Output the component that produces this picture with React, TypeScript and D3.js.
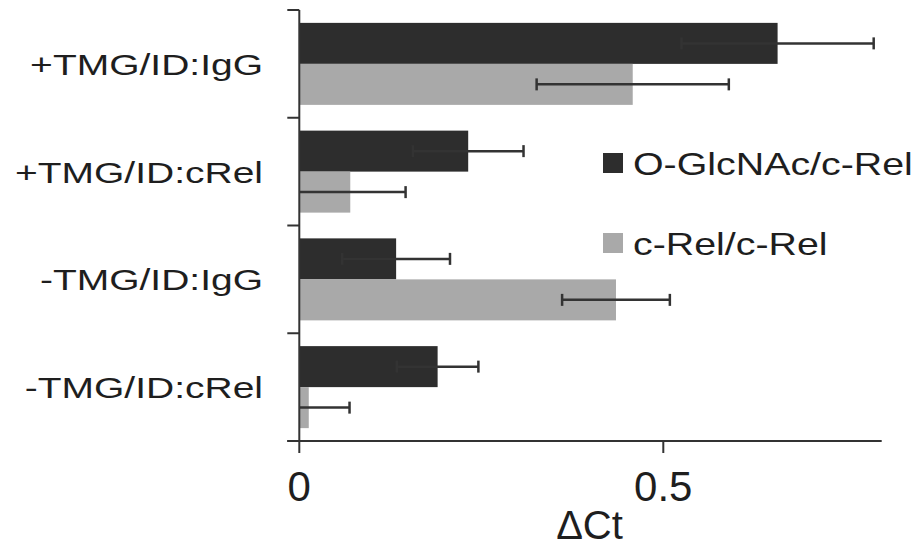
import React, { useRef, useEffect } from 'react';
import * as d3 from 'd3';

const categories = ['+TMG/ID:IgG', '+TMG/ID:cRel', '-TMG/ID:IgG', '-TMG/ID:cRel'];
const seriesNames = ['O-GlcNAc/c-Rel', 'c-Rel/c-Rel'];
const oglcnacValues = [0.657, 0.232, 0.133, 0.19];
const oglcnacErrors = [0.132, 0.076, 0.074, 0.056];
const crelValues = [0.458, 0.07, 0.435, 0.013];
const crelErrors = [0.132, 0.076, 0.074, 0.056];
const xTicks = [0, 0.5];
const xLabel = 'ΔCt';

const colors = ['#2d2d2d', '#a9a9a9'];
const axisColor = '#333';
const textColor = '#1e1e1e';
const font = '"Liberation Sans", Arial, sans-serif';

export default function App() {
  const svgRef = useRef<SVGSVGElement>(null);

  useEffect(() => {
    const svg = d3.select(svgRef.current);
    const left = 299.3, right = 881.7, top = 10, bottom = 441;

    const x = d3.scaleLinear().domain([0, 0.8]).range([left, right]);
    const y0 = d3.scaleBand<string>()
      .domain(categories)
      .range([top, bottom])
      .paddingInner(0.239)
      .paddingOuter(0.1195);
    const y1 = d3.scaleBand<number>()
      .domain([0, 1])
      .range([0, y0.bandwidth()]);

    const rows = categories.map((c, i) => ({
      cat: c,
      vals: [
        { s: 0, v: oglcnacValues[i], e: oglcnacErrors[i] },
        { s: 1, v: crelValues[i], e: crelErrors[i] },
      ],
    }));

    const g = svg.append('g');

    // bars
    const groups = g.selectAll('g.grp')
      .data(rows)
      .join('g')
      .attr('class', 'grp')
      .attr('transform', d => `translate(0,${y0(d.cat)})`);

    groups.selectAll('rect')
      .data(d => d.vals)
      .join('rect')
      .attr('x', x(0))
      .attr('y', d => y1(d.s)!)
      .attr('width', d => x(d.v) - x(0))
      .attr('height', y1.bandwidth())
      .attr('fill', d => colors[d.s]);

    // error bars
    const errs = groups.selectAll('g.err')
      .data(d => d.vals)
      .join('g')
      .attr('class', 'err')
      .attr('transform', d => `translate(0,${y1(d.s)! + y1.bandwidth() / 2})`)
      .attr('stroke', axisColor)
      .attr('stroke-width', 2.5);
    errs.append('line')
      .attr('x1', d => x(Math.max(0, d.v - d.e)))
      .attr('x2', d => x(d.v + d.e))
      .attr('y1', 0).attr('y2', 0);
    errs.append('line')
      .attr('x1', d => x(d.v + d.e)).attr('x2', d => x(d.v + d.e))
      .attr('y1', -6).attr('y2', 6);
    errs.filter(d => d.v - d.e > 0).append('line')
      .attr('x1', d => x(d.v - d.e)).attr('x2', d => x(d.v - d.e))
      .attr('y1', -6).attr('y2', 6);

    // y axis
    g.append('line')
      .attr('x1', left).attr('x2', left)
      .attr('y1', top).attr('y2', bottom)
      .attr('stroke', axisColor).attr('stroke-width', 2);
    const step = y0.step();
    g.selectAll('line.ytick')
      .data(d3.range(categories.length + 1))
      .join('line')
      .attr('class', 'ytick')
      .attr('x1', left - 12).attr('x2', left)
      .attr('y1', i => top + i * step).attr('y2', i => top + i * step)
      .attr('stroke', axisColor).attr('stroke-width', 2);

    g.selectAll('g.ylab')
      .data(categories)
      .join('g')
      .attr('class', 'ylab')
      .attr('transform', d => `translate(263,${y0(d)! - y0.paddingInner() * step / 2 + step / 2 + 11}) scale(1.3,1)`)
      .append('text')
      .attr('text-anchor', 'end')
      .attr('font-family', font)
      .attr('font-size', 30)
      .attr('fill', textColor)
      .text(d => d);

    // x axis
    g.append('line')
      .attr('x1', left - 12).attr('x2', right)
      .attr('y1', bottom).attr('y2', bottom)
      .attr('stroke', axisColor).attr('stroke-width', 2);
    g.selectAll('line.xtick')
      .data(xTicks)
      .join('line')
      .attr('class', 'xtick')
      .attr('x1', d => x(d)).attr('x2', d => x(d))
      .attr('y1', bottom).attr('y2', bottom + 12)
      .attr('stroke', axisColor).attr('stroke-width', 2);
    g.selectAll('text.xlab')
      .data(xTicks)
      .join('text')
      .attr('class', 'xlab')
      .attr('x', d => x(d))
      .attr('y', 501)
      .attr('text-anchor', 'middle')
      .attr('font-family', font)
      .attr('font-size', 42)
      .attr('fill', textColor)
      .text(d => d3.format('')(d));

    g.append('text')
      .attr('x', 589.5)
      .attr('y', 539)
      .attr('text-anchor', 'middle')
      .attr('font-family', font)
      .attr('font-size', 40)
      .attr('fill', textColor)
      .text(xLabel);

    // legend
    const legend = g.selectAll('g.leg')
      .data(seriesNames)
      .join('g')
      .attr('class', 'leg')
      .attr('transform', (d, i) => `translate(603,${153 + i * 80})`);
    legend.append('rect')
      .attr('width', 20).attr('height', 20)
      .attr('fill', (d, i) => colors[i]);
    legend.append('g')
      .attr('transform', 'translate(30,22) scale(1.23,1)')
      .append('text')
      .attr('font-family', font)
      .attr('font-size', 32)
      .attr('fill', textColor)
      .text(d => d);

    return () => {
      g.remove();
    };
  });

  return (
    <svg ref={svgRef} width={922} height={547}
      style={{ position: 'absolute', left: 0, top: 0, background: '#fff' }}>
    </svg>
  );
}
